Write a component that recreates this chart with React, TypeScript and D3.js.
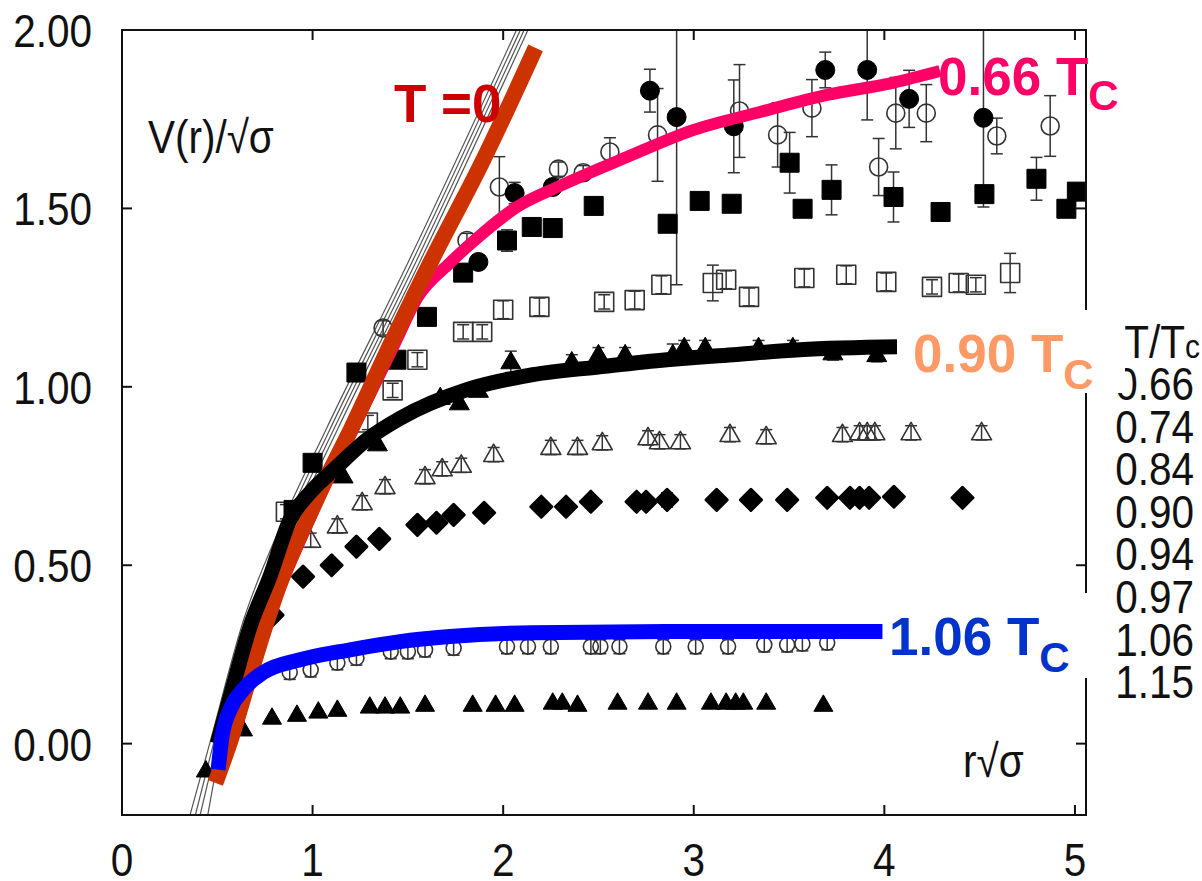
import React from 'react';
import * as d3 from 'd3';

type Pt = [number, number];
type EP = [number, number, number]; // r, V, error

const xTicks = [0, 1, 2, 3, 4, 5];
const xTickLabels = ['0', '1', '2', '3', '4', '5'];
const yTicks = [0, 0.5, 1, 1.5, 2];
const yTickLabels = ['0.00', '0.50', '1.00', '1.50', '2.00'];
const legendValues = ['0.66', '0.74', '0.84', '0.90', '0.94', '0.97', '1.06', '1.15'];

// T = 0 band (thin lines)
const bandL1: Pt[] = [[0.357, -0.2], [0.46, 0], [0.64, 0.35], [0.825, 0.6], [1.07, 0.88], [1.502, 1.35], [2.07, 2.0]];
const bandL2: Pt[] = [[0.385, -0.2], [0.48, 0], [0.66, 0.35], [0.845, 0.6], [1.09, 0.88], [1.522, 1.35], [2.09, 2.0]];
const bandL3: Pt[] = [[0.41, -0.2], [0.5, 0], [0.68, 0.35], [0.865, 0.6], [1.11, 0.88], [1.542, 1.35], [2.11, 2.0]];
const bandL4: Pt[] = [[0.45, -0.2], [0.52, 0], [0.7, 0.35], [0.885, 0.6], [1.13, 0.88], [1.562, 1.35], [2.13, 2.0]];

// thick curves
const orangeT0: Pt[] = [[0.49, -0.11], [0.57, 0.01], [0.66, 0.17], [0.74, 0.31], [0.85, 0.48], [0.94, 0.59], [1.06, 0.73], [1.2, 0.88], [1.41, 1.12], [1.62, 1.35], [1.89, 1.63], [2.17, 1.95]];
const pink066: Pt[] = [[0.8, 0.4], [0.87, 0.49], [0.96, 0.6], [1.08, 0.74], [1.22, 0.89], [1.43, 1.12], [1.55, 1.25], [1.72, 1.347], [1.894, 1.431], [2.072, 1.504], [2.298, 1.563], [2.65, 1.644], [3.0, 1.72], [3.347, 1.77], [3.699, 1.818], [4.045, 1.852], [4.292, 1.885]];
const black090: Pt[] = [[0.5, 0.0], [0.582, 0.16], [0.672, 0.328], [0.776, 0.468], [0.881, 0.627], [0.986, 0.703], [1.128, 0.776], [1.285, 0.852], [1.46, 0.912], [1.81, 0.992], [2.156, 1.034], [2.508, 1.056], [2.859, 1.076], [3.206, 1.09], [3.557, 1.104], [4.07, 1.112]];
const blue106: Pt[] = [[0.504, -0.073], [0.525, 0.02], [0.567, 0.095], [0.635, 0.151], [0.74, 0.199], [0.934, 0.235], [1.196, 0.263], [1.459, 0.286], [1.721, 0.3], [2.156, 0.311], [2.859, 0.314], [3.99, 0.314]];

// data series
const s066: EP[] = [[1.87, 1.35, 0.02], [2.06, 1.543, 0.03], [2.26, 1.56, 0.02], [2.77, 1.83, 0.06], [2.91, 1.756, 0.47], [3.21, 1.73, 0.13], [3.69, 1.888, 0.05], [3.91, 1.888, 0.14], [4.13, 1.807, 0.08], [4.52, 1.754, 0.25]];
const s074: EP[] = [[1.37, 1.165, 0.02], [1.81, 1.41, 0.02], [1.98, 1.56, 0.085], [2.29, 1.61, 0.02], [2.42, 1.6, 0.02], [2.56, 1.658, 0.04], [2.81, 1.706, 0.13], [3.24, 1.773, 0.13], [3.44, 1.706, 0.09], [3.62, 1.781, 0.08], [3.97, 1.616, 0.08], [4.06, 1.767, 0.1], [4.22, 1.767, 0.08], [4.59, 1.703, 0.05], [4.87, 1.731, 0.085]];
const s084: EP[] = [[0.9, 0.655, 0], [1.0, 0.787, 0], [1.23, 1.04, 0], [1.44, 1.076, 0], [1.6, 1.196, 0.02], [1.79, 1.32, 0.02], [2.02, 1.41, 0.03], [2.15, 1.448, 0], [2.26, 1.445, 0], [2.475, 1.507, 0.02], [2.863, 1.457, 0.02], [3.031, 1.521, 0.02], [3.199, 1.513, 0.02], [3.503, 1.628, 0.085], [3.571, 1.499, 0.02], [3.723, 1.552, 0.07], [4.048, 1.532, 0.07], [4.295, 1.49, 0], [4.525, 1.54, 0.02], [4.798, 1.583, 0.06], [4.955, 1.499, 0.02], [5.01, 1.547, 0.02]];
const s090: EP[] = [[0.86, 0.65, 0.02], [1.29, 0.9, 0.02], [1.42, 0.99, 0.02], [1.55, 1.076, 0.02], [1.79, 1.154, 0.02], [1.89, 1.154, 0.02], [2.0, 1.216, 0.025], [2.19, 1.224, 0.025], [2.53, 1.238, 0.02], [2.69, 1.243, 0.025], [2.83, 1.286, 0.025], [3.1, 1.291, 0.05], [3.17, 1.3, 0.025], [3.29, 1.252, 0.025], [3.58, 1.305, 0.025], [3.8, 1.314, 0.025], [4.01, 1.294, 0.025], [4.25, 1.28, 0.02], [4.39, 1.291, 0.025], [4.48, 1.286, 0.02], [4.66, 1.319, 0.055]];
const s094: EP[] = [[0.56, 0.1, 0], [0.71, 0.37, 0], [1.16, 0.75, 0], [1.34, 0.84, 0], [1.67, 0.97, 0], [1.77, 0.955, 0], [1.87, 0.99, 0], [2.04, 1.07, 0.03], [2.36, 1.07, 0.02], [2.5, 1.09, 0.02], [2.64, 1.09, 0.02], [2.89, 1.09, 0.03], [2.95, 1.11, 0.02], [3.06, 1.11, 0.02], [3.34, 1.11, 0.02], [3.52, 1.11, 0.02], [3.73, 1.095, 0.02], [3.96, 1.09, 0.02]];
const s097: EP[] = [[0.99, 0.57, 0.02], [1.13, 0.61, 0.02], [1.26, 0.675, 0.02], [1.38, 0.72, 0.02], [1.59, 0.748, 0.02], [1.68, 0.77, 0.02], [1.78, 0.78, 0.02], [1.95, 0.81, 0.02], [2.25, 0.83, 0.02], [2.39, 0.83, 0.02], [2.52, 0.843, 0.02], [2.76, 0.857, 0.02], [2.82, 0.846, 0.02], [2.93, 0.846, 0.02], [3.19, 0.866, 0.02], [3.38, 0.86, 0.02], [3.78, 0.866, 0.02], [3.87, 0.871, 0.02], [3.91, 0.871, 0.02], [3.95, 0.871, 0.02], [4.14, 0.871, 0.02], [4.51, 0.871, 0.02]];
const s106: EP[] = [[0.79, 0.36, 0], [0.95, 0.468, 0], [1.1, 0.5, 0], [1.23, 0.552, 0], [1.35, 0.574, 0], [1.55, 0.613, 0], [1.65, 0.619, 0], [1.74, 0.641, 0], [1.9, 0.647, 0], [2.2, 0.664, 0], [2.33, 0.664, 0], [2.46, 0.678, 0], [2.7, 0.678, 0], [2.75, 0.678, 0], [2.86, 0.683, 0.02], [3.12, 0.683, 0], [3.3, 0.683, 0], [3.49, 0.683, 0], [3.7, 0.689, 0], [3.82, 0.689, 0], [3.87, 0.689, 0], [3.92, 0.689, 0], [4.05, 0.692, 0], [4.41, 0.689, 0]];
const s115: EP[] = [[0.88, 0.2, 0.02], [0.99, 0.207, 0.02], [1.13, 0.227, 0.02], [1.23, 0.24, 0.02], [1.41, 0.258, 0.02], [1.5, 0.258, 0.02], [1.59, 0.263, 0.02], [1.74, 0.268, 0.02], [2.02, 0.272, 0.02], [2.13, 0.272, 0.02], [2.25, 0.272, 0.02], [2.46, 0.272, 0.02], [2.51, 0.272, 0.02], [2.61, 0.272, 0.02], [2.84, 0.272, 0.02], [3.01, 0.272, 0.02], [3.18, 0.272, 0.02], [3.37, 0.277, 0.02], [3.49, 0.277, 0.02], [3.57, 0.28, 0.02], [3.7, 0.283, 0.02]];
const sBottom: EP[] = [[0.44, -0.075, 0], [0.635, 0.04, 0], [0.787, 0.073, 0], [0.918, 0.081, 0], [1.03, 0.09, 0], [1.13, 0.095, 0], [1.3, 0.104, 0], [1.38, 0.104, 0], [1.46, 0.104, 0], [1.59, 0.109, 0], [1.84, 0.109, 0], [1.96, 0.109, 0], [2.06, 0.109, 0], [2.26, 0.115, 0], [2.31, 0.115, 0], [2.39, 0.109, 0], [2.6, 0.115, 0], [2.76, 0.115, 0], [2.91, 0.115, 0], [3.09, 0.115, 0], [3.17, 0.115, 0], [3.22, 0.115, 0], [3.26, 0.115, 0], [3.38, 0.115, 0], [3.68, 0.109, 0]];

type Shape = 'circle' | 'square' | 'triangle' | 'diamond';
const seriesStyles: { data: EP[]; shape: Shape; filled: boolean; size: number }[] = [
  { data: s074, shape: 'circle', filled: false, size: 18 },
  { data: s090, shape: 'square', filled: false, size: 19 },
  { data: s097, shape: 'triangle', filled: false, size: 20 },
  { data: s115, shape: 'circle', filled: false, size: 15 },
  { data: s066, shape: 'circle', filled: true, size: 19 },
  { data: s084, shape: 'square', filled: true, size: 19 },
  { data: s094, shape: 'triangle', filled: true, size: 20 },
  { data: s106, shape: 'diamond', filled: true, size: 21 },
  { data: sBottom, shape: 'triangle', filled: true, size: 19 },
];

const PL = 122, PR = 1086, PT = 30, PB = 815;
const x = d3.scaleLinear().domain([0, 5.058]).range([PL, PR]);
const y = d3.scaleLinear().domain([-0.2, 2.0]).range([PB, PT]);
const line = d3.line<Pt>().x(d => x(d[0])).y(d => y(d[1])).curve(d3.curveMonotoneX);

const FONT = "'Liberation Sans', Arial, Helvetica, sans-serif";

function markerPath(shape: Shape, s: number): string {
  const h = s / 2;
  if (shape === 'square') return `M${-h},${-h}H${h}V${h}H${-h}Z`;
  if (shape === 'diamond') return `M0,${-h}L${h},0L0,${h}L${-h},0Z`;
  if (shape === 'triangle') {
    const th = s * 0.866;
    return `M0,${-th * 0.6}L${h},${th * 0.4}L${-h},${th * 0.4}Z`;
  }
  return '';
}

function Marker({ shape, filled, size, px, py }: { shape: Shape; filled: boolean; size: number; px: number; py: number }) {
  const stroke = filled ? '#000' : '#333';
  if (shape === 'circle') {
    return <circle cx={px} cy={py} r={size / 2} fill={filled ? '#000' : 'none'} stroke={stroke} strokeWidth={filled ? 1 : 1.6} />;
  }
  return (
    <path
      d={markerPath(shape, size)}
      transform={`translate(${px},${py})`}
      fill={filled ? '#000' : 'none'}
      stroke={stroke}
      strokeWidth={filled ? (shape === 'diamond' ? 3 : 1) : 1.6}
      strokeLinejoin="round"
    />
  );
}

export default function App() {
  const legendTop = 400;
  const legendStep = 42.6;
  return (
    <svg width={1202} height={881} style={{ position: 'absolute', left: 0, top: 0, display: 'block' }} fontFamily={FONT}>
      <rect x={0} y={0} width={1202} height={881} fill="#fff" />
      <defs>
        <clipPath id="plotclip">
          <rect x={PL} y={PT} width={PR - PL} height={PB - PT} />
        </clipPath>
      </defs>
      <g clipPath="url(#plotclip)">
        {[bandL1, bandL2, bandL3, bandL4].map((b, i) => (
          <path key={'b' + i} d={line(b) || ''} fill="none" stroke="#555" strokeWidth={1.2} />
        ))}
        {seriesStyles.map((s, si) => (
          <g key={'s' + si}>
            {s.data.map((p, pi) => {
              const px = x(p[0]);
              const py = y(p[1]);
              const e = p[2];
              return (
                <g key={pi}>
                  {e > 0 && (
                    <g stroke="#333" strokeWidth={1.5}>
                      <line x1={px} x2={px} y1={y(p[1] - e)} y2={y(p[1] + e)} />
                      <line x1={px - 6} x2={px + 6} y1={y(p[1] - e)} y2={y(p[1] - e)} />
                      <line x1={px - 6} x2={px + 6} y1={y(p[1] + e)} y2={y(p[1] + e)} />
                    </g>
                  )}
                  <Marker shape={s.shape} filled={s.filled} size={s.size} px={px} py={py} />
                </g>
              );
            })}
          </g>
        ))}
        <path d={line(pink066) || ''} fill="none" stroke="#ff0066" strokeWidth={12} />
        <path d={line(orangeT0) || ''} fill="none" stroke="#cc3300" strokeWidth={16} />
        <path d={line(black090) || ''} fill="none" stroke="#000" strokeWidth={15} />
        <path d={line(blue106) || ''} fill="none" stroke="#0000ff" strokeWidth={15} />
      </g>

      {/* frame and ticks */}
      <rect x={PL} y={PT} width={PR - PL} height={PB - PT} fill="none" stroke="#111" strokeWidth={2} />
      {xTicks.map(t => (
        <g key={'xt' + t} stroke="#111" strokeWidth={2}>
          <line x1={x(t)} x2={x(t)} y1={PB} y2={PB - 10} />
          <line x1={x(t)} x2={x(t)} y1={PT} y2={PT + 10} />
        </g>
      ))}
      {yTicks.map(t => (
        <g key={'yt' + t} stroke="#111" strokeWidth={2}>
          <line x1={PL} x2={PL + 10} y1={y(t)} y2={y(t)} />
          <line x1={PR} x2={PR - 10} y1={y(t)} y2={y(t)} />
        </g>
      ))}
      {xTicks.map((t, i) => (
        <text key={'xl' + t} transform={`translate(${x(t)},876) scale(0.88,1)`} textAnchor="middle" fontSize={46} fill="#111">
          {xTickLabels[i]}
        </text>
      ))}
      {yTicks.map((t, i) => (
        <text key={'yl' + t} transform={`translate(92,${y(t) + 17}) scale(0.88,1)`} textAnchor="end" fontSize={46} fill="#111">
          {yTickLabels[i]}
        </text>
      ))}

      {/* axis labels */}
      <text transform="translate(148,153) scale(0.88,1)" fontSize={46} fill="#111">V(r)/√σ</text>
      <text transform="translate(963,777) scale(0.88,1)" fontSize={46} fill="#111">r√σ</text>

      {/* legend */}
      <text transform="translate(1200,358) scale(0.88,1)" textAnchor="end" fontSize={46} fill="#111">
        T/T<tspan fontSize={34}>c</tspan>
      </text>
      {legendValues.map((v, i) => (
        <text key={'lg' + v} transform={`translate(1194,${legendTop + i * legendStep}) scale(0.88,1)`} textAnchor="end" fontSize={46} fill="#111">
          {v}
        </text>
      ))}

      {/* annotations */}
      <rect x={897} y={310} width={228} height={83} fill="#fff" />
      <rect x={883} y={593} width={217} height={85} fill="#fff" />
      <g fontWeight="bold" fontSize={53}>
        <text x={394} y={122} fill="#cc0000">T =0</text>
        <text x={938} y={95} fill="#ff0066">
          0.66 T<tspan fontSize={42} dy={15}>C</tspan>
        </text>
        <text x={913} y={372} fill="#ff9966">
          0.90 T<tspan fontSize={42} dy={17}>C</tspan>
        </text>
        <text x={889} y={655} fill="#0033cc">
          1.06 T<tspan fontSize={42} dy={17}>C</tspan>
        </text>
      </g>
    </svg>
  );
}
